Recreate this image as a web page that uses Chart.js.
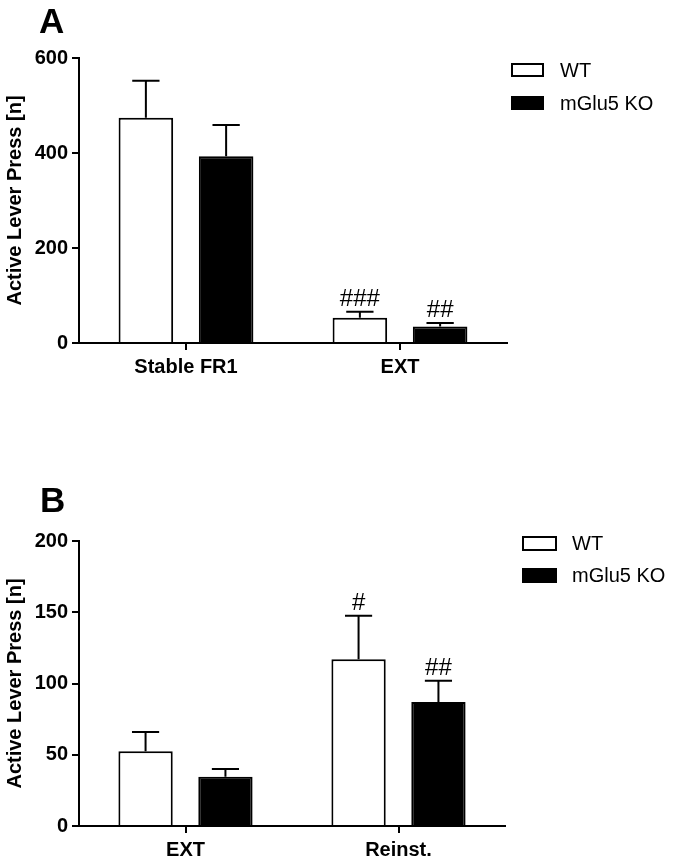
<!DOCTYPE html>
<html>
<head>
<meta charset="utf-8">
<script src="https://cdn.jsdelivr.net/npm/chart.js@4.4.0/dist/chart.umd.min.js"></script>
<style>
  body { margin: 0; background: #fff; }
  canvas { position: absolute; left: 0; }
  #chartA { top: 0; }
  #chartB { top: 470px; }
</style>
</head>
<body>
<canvas id="chartA" width="675" height="400"></canvas>
<canvas id="chartB" width="675" height="393"></canvas>
<script>
const groups = ['WT', 'mGlu5 KO'];
const yTitle = 'Active Lever Press [n]';

// panel A
const phasesA = ['Stable FR1', 'EXT'];
const wtA = [474, 53];
const wtErrA = [78, 13];
const koA = [393, 35];
const koErrA = [66, 7];
const wtMarksA = ['', '###'];
const koMarksA = ['', '##'];
const ticksA = [0, 200, 400, 600];

// panel B
const phasesB = ['EXT', 'Reinst.'];
const wtB = [52.5, 117];
const wtErrB = [13.5, 30.5];
const koB = [34.5, 87];
const koErrB = [5.5, 15];
const wtMarksB = ['', '#'];
const koMarksB = ['', '##'];
const ticksB = [0, 50, 100, 150, 200];

const family = '"Liberation Sans", Arial, sans-serif';

const errorBars = {
    id: 'errorBars',
    afterDatasetsDraw(chart) {
        const ctx = chart.ctx;
        const y = chart.scales.y;
        chart.data.datasets.forEach((ds, i) => {
            const meta = chart.getDatasetMeta(i);
            meta.data.forEach((bar, j) => {
                const top = y.getPixelForValue(ds.data[j] + ds.errors[j]);
                const half = bar.width / 4;
                ctx.save();
                ctx.strokeStyle = '#000';
                ctx.lineWidth = 2;
                ctx.beginPath();
                ctx.moveTo(bar.x, bar.y);
                ctx.lineTo(bar.x, top);
                ctx.moveTo(bar.x - half, top);
                ctx.lineTo(bar.x + half, top);
                ctx.stroke();
                if (ds.marks[j]) {
                    ctx.fillStyle = '#000';
                    ctx.font = '24px ' + family;
                    ctx.textAlign = 'center';
                    ctx.textBaseline = 'alphabetic';
                    ctx.fillText(ds.marks[j], bar.x, top - 6);
                }
                ctx.restore();
            });
        });
    }
};

const boxLegend = {
    id: 'boxLegend',
    afterDraw(chart, args, opts) {
        const ctx = chart.ctx;
        ctx.save();
        chart.data.datasets.forEach((ds, i) => {
            const y = opts.y + i * opts.rowGap;
            ctx.fillStyle = ds.backgroundColor;
            ctx.fillRect(opts.x, y, opts.w, opts.h);
            ctx.strokeStyle = '#000';
            ctx.lineWidth = 2;
            ctx.strokeRect(opts.x, y, opts.w, opts.h);
            ctx.fillStyle = '#000';
            ctx.font = '20px ' + family;
            ctx.textAlign = 'left';
            ctx.textBaseline = 'middle';
            ctx.fillText(ds.label, opts.textX, y + opts.h / 2 + 1);
        });
        ctx.restore();
    }
};

const panelLabel = {
    id: 'panelLabel',
    afterDraw(chart, args, opts) {
        const ctx = chart.ctx;
        ctx.save();
        ctx.fillStyle = '#000';
        ctx.font = 'bold 35px ' + family;
        ctx.textAlign = 'left';
        ctx.textBaseline = 'alphabetic';
        ctx.fillText(opts.text, opts.x, opts.y);
        ctx.restore();
    }
};

function makeChart(id, phases, wt, wtErr, wtMarks, ko, koErr, koMarks, ticks, layout) {
    const ctx = document.getElementById(id).getContext('2d');
    return new Chart(ctx, {
        type: 'bar',
        data: {
            labels: phases,
            datasets: [{
                label: groups[0],
                data: wt,
                errors: wtErr,
                marks: wtMarks,
                backgroundColor: '#fff',
                borderColor: '#000',
                borderWidth: 2
            }, {
                label: groups[1],
                data: ko,
                errors: koErr,
                marks: koMarks,
                backgroundColor: '#000',
                borderColor: '#000',
                borderWidth: 2
            }]
        },
        options: {
            responsive: false,
            animation: false,
            categoryPercentage: 0.75,
            barPercentage: 0.68,
            layout: { padding: { top: layout.top, right: layout.right, left: 0, bottom: 0 } },
            plugins: {
                legend: { display: false },
                tooltip: { enabled: false },
                boxLegend: layout.legend,
                panelLabel: layout.label
            },
            scales: {
                x: {
                    offset: true,
                    afterFit: s => { s.height = layout.xHeight; },
                    border: { display: true, color: '#000', width: 2 },
                    grid: { offset: false, drawOnChartArea: false, drawTicks: true, tickLength: 7, color: '#000', lineWidth: 2 },
                    ticks: { color: '#000', font: { family: family, size: 20, weight: 'bold' }, padding: 5, maxRotation: 0, autoSkip: false }
                },
                y: {
                    min: 0,
                    max: ticks[ticks.length - 1],
                    afterBuildTicks: s => { s.ticks = ticks.map(v => ({ value: v })); },
                    afterFit: s => { s.width = 79; },
                    border: { display: true, color: '#000', width: 2 },
                    grid: { drawOnChartArea: false, drawTicks: true, tickLength: 7, color: '#000', lineWidth: 2 },
                    ticks: { color: '#000', font: { family: family, size: 20, weight: 'bold' }, padding: 4 },
                    title: {
                        display: true,
                        text: yTitle,
                        color: '#000',
                        font: { family: family, size: 20, weight: 'bold' },
                        padding: { top: 3, bottom: 0 }
                    }
                }
            }
        },
        plugins: [errorBars, boxLegend, panelLabel]
    });
}

makeChart('chartA', phasesA, wtA, wtErrA, wtMarksA, koA, koErrA, koMarksA, ticksA, {
    top: 58, right: 168, xHeight: 57,
    legend: { x: 512, y: 64, w: 31, h: 12, rowGap: 33, textX: 560 },
    label: { text: 'A', x: 39, y: 33 }
});

makeChart('chartB', phasesB, wtB, wtErrB, wtMarksB, koB, koErrB, koMarksB, ticksB, {
    top: 71, right: 170, xHeight: 37,
    legend: { x: 523, y: 67, w: 33, h: 13, rowGap: 32, textX: 572 },
    label: { text: 'B', x: 40, y: 42 }
});
</script>
</body>
</html>
